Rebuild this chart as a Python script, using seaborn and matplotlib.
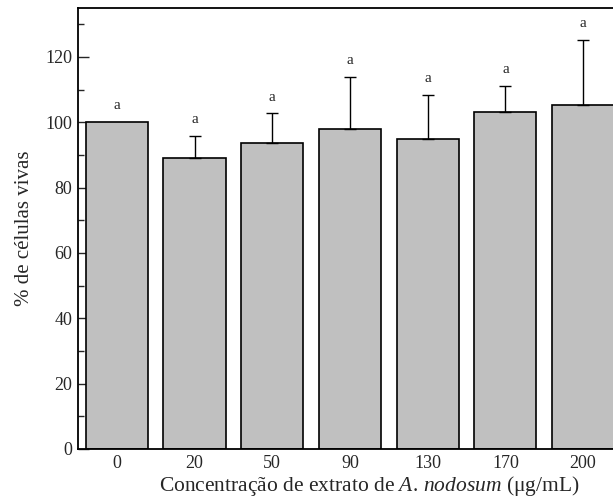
import seaborn as sns
import numpy as np
import matplotlib.pyplot as plt
import pandas as pd
from matplotlib.ticker import MultipleLocator

sns.set_style("white")
plt.rcParams['font.family'] = ['Liberation Serif', 'DejaVu Serif']
plt.rcParams['mathtext.fontset'] = 'custom'
plt.rcParams['mathtext.rm'] = 'Liberation Serif'
plt.rcParams['mathtext.it'] = 'Liberation Serif:italic'

# data
concentracao = ['0', '20', '50', '90', '130', '170', '200']
media = [100.0, 89.2, 93.7, 98.1, 94.9, 103.1, 105.3]
desvio = [0.0, 6.7, 9.0, 15.9, 13.4, 8.1, 19.9]
letras = ['a', 'a', 'a', 'a', 'a', 'a', 'a']

df = pd.DataFrame({'conc': concentracao, 'viab': media, 'sd': desvio})

fig = plt.figure(figsize=(6.13, 4.97), dpi=100)
ax = fig.add_axes([0.1272, 0.0966, 0.8874, 0.8874])

sns.barplot(data=df, x='conc', y='viab', color='#c0c0c0', saturation=1,
            edgecolor='black', linewidth=1.2, width=0.8, ax=ax)

# only upward error bars (skip the control, which has none)
pos = np.arange(len(df))
tem = df['sd'] > 0
ax.errorbar(pos[tem], df['viab'][tem], yerr=[np.zeros(tem.sum()), df['sd'][tem]],
            fmt='none', ecolor='black', elinewidth=1, capsize=4.5, capthick=1)

for i, (m, s, t) in enumerate(zip(media, desvio, letras)):
    ax.text(i, m + s + 5, t, ha='center', va='center', fontsize=11)

ax.set_xlim(-0.5, 6.5)
ax.set_ylim(0, 135)
ax.yaxis.set_major_locator(MultipleLocator(20))
ax.yaxis.set_minor_locator(MultipleLocator(10))
ax.tick_params(axis='y', which='major', direction='in', length=8, width=1,
               left=True, labelsize=13, pad=4)
ax.tick_params(axis='y', which='minor', direction='in', length=4, width=1, left=True)
ax.tick_params(axis='x', length=0, labelsize=13, pad=4)

for side in ['left', 'top', 'bottom']:
    ax.spines[side].set_color('black')
    ax.spines[side].set_linewidth(1.3)
ax.spines['right'].set_visible(False)

ax.set_ylabel('% de células vivas', fontsize=15, labelpad=8)
ax.set_xlabel(r'Concentração de extrato de $\mathit{A.}\,\mathit{nodosum}$ (μg/mL)',
              fontsize=15.5, labelpad=0)
ax.xaxis.set_label_coords(0.535, -0.083, transform=ax.transAxes)
ax.xaxis.label.set_va('center')

fig.savefig('out.png', dpi=100)
